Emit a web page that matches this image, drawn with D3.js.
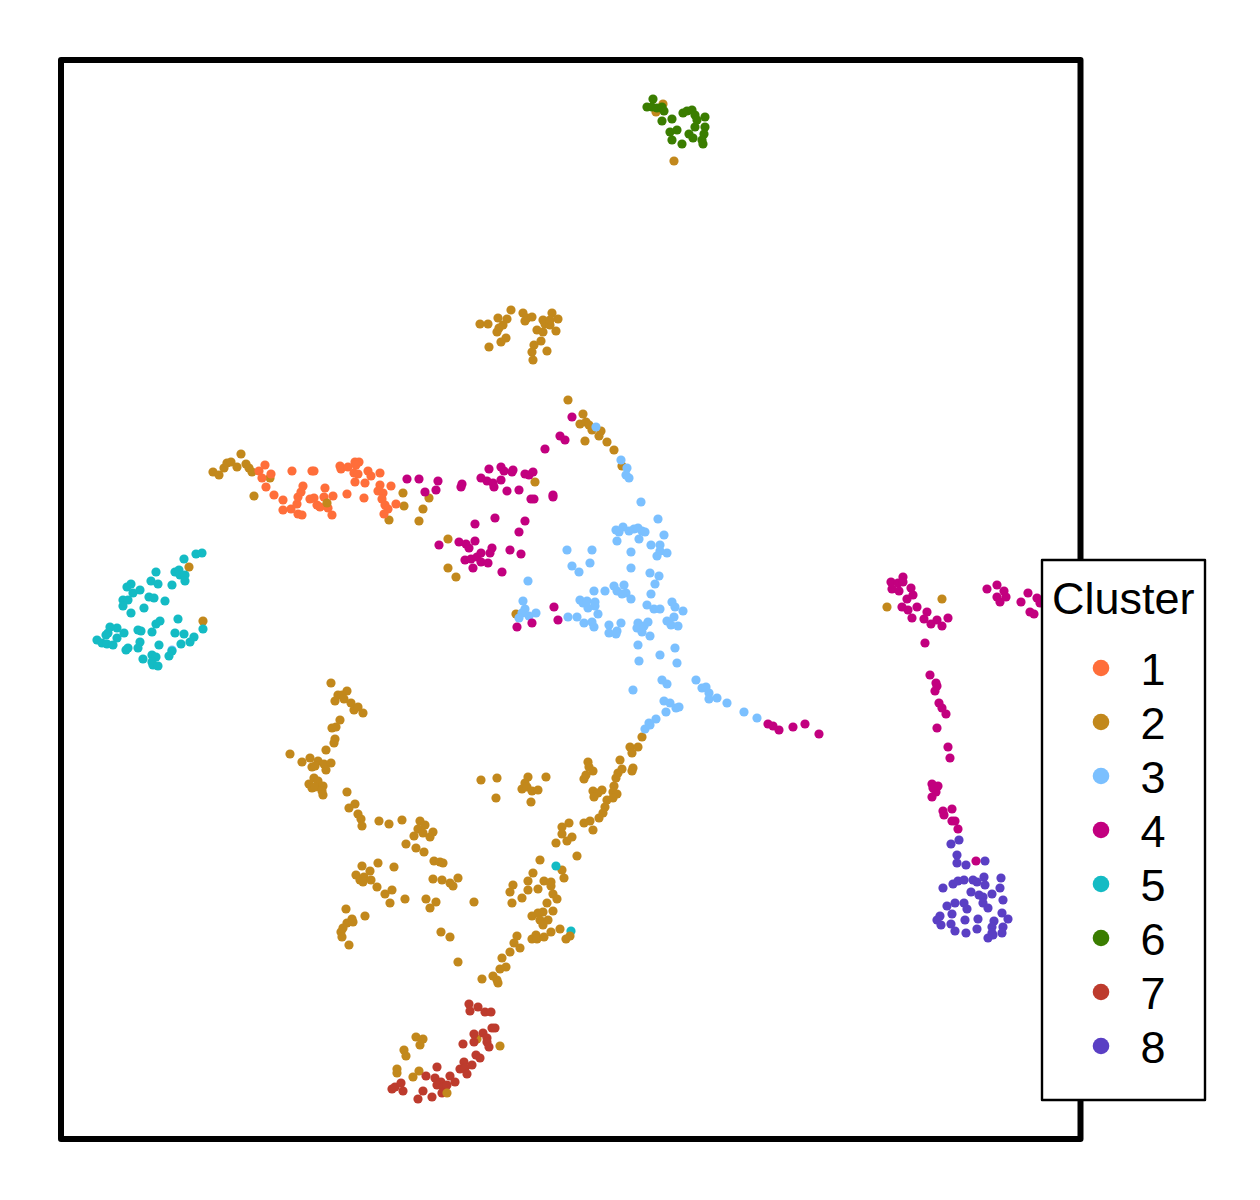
<!DOCTYPE html>
<html><head><meta charset="utf-8">
<script src="https://cdn.jsdelivr.net/npm/d3@7/dist/d3.min.js"></script>
<style>html,body{margin:0;padding:0;background:#fff}svg{display:block}</style>
</head><body><svg id="c" width="1260" height="1200"></svg>
<script>
const clusterNames = ["1","2","3","4","5","6","7","8"];
const clusterColors = ["#FF6E3A","#C2881C","#7BC0FF","#C2007F","#14BBC4","#3A7D00","#BD3B2D","#5A3FC4"];

const cluster1 = [[204,674],[198,668],[210,665],[201,661],[205,652],[213,644],[222,639],[222,629],[230,630],[236,635],[237,642],[240,647],[242,653],[237,625],[241,624],[249,640],[253,641],[256,634],[259,632],[263,642],[264,651],[272,643],[267,631],[271,624],[231,668],[251,668],[253,668],[279,673],[280,670],[287,672],[294,677],[298,677],[295,674],[293,666],[297,665],[307,668],[310,663],[319,666],[294,657],[304,656],[286,645],[303,641],[319,654],[330,653],[317,648],[322,646],[321,640],[324,634],[327,630],[323,625],[335,635]];

const cluster2 = [[152,667],[158,664],[163,671],[166,676],[170,677],[176,672],[180,685],[185,675],[188,671],[191,667],[209,661],[193,643],[342,646],[343,633],[328,619],[358,618],[362,630],[368,641],[387,600],[387,571],[395,562],[474,657],[507,739],
[522,725],[519,715],[525,717],[528,714],[531,709],[540,708],[538,703],[524,698],[546,697],[553,689],[561,673],[455,525],[581,402],[569,392],[577,392],
[419,815],[427,815],[437,821],[446,820],[442,814],[438,811],[436,807],[450,829],[462,826],[466,821],[471,822],[464,818],[482,819],[491,826],[497,820],[484,815],[489,814],[476,809],[482,807],[495,808],[489,819],[480,798],[473,794],[445,801],[440,797],[428,792],[471,787],[472,779],[486,788],
[602,1035],[595,1027],[613,978],[826,532],[881,540],[128,572],[142,518],
[270,456],[286,448],[277,444],[281,444],[274,438],[283,440],[290,436],[293,429],[297,432],[302,426],[279,419],[275,412],[271,411],[274,400],[273,396],[265,389],[229,385],[241,377],[249,381],[257,378],[251,372],[254,373],[263,375],[270,376],[265,369],[253,361],[257,358],[248,355],[251,351],[254,352],[262,353],[261,348],[262,344],[286,347],[294,335],[288,331],[297,325],[300,320],[301,313],[318,318],[328,315],[341,319],[359,318],[364,314],[357,310],[362,306],[353,303],[372,307],[369,302],[345,295],[355,291],[363,287],[373,278],[379,277],[382,276],[372,260],[381,259],[389,256],[392,253],[397,261],[301,273],[317,276],[333,272],[309,268],[295,264],[299,259],[303,262],[302,257],[310,259],[316,252],[324,245],[331,249],[329,236],[344,240],[365,240],[375,237],[369,231],[413,237],[285,230],[304,223],[291,220],[286,216],[292,217],[282,211],[280,207],[281,202],[288,194],[380,207],[389,202],[397,177],[420,359],[436,361],[435,341],
[467,362],[485,362],[464,356],[461,350],[466,352],[471,348],[477,349],[470,337],[571,386],[559,379],[527,377],[528,372],[532,368],[525,364],[523,360],[561,370],[557,366],[555,361],[572,371],[571,368],[553,353],[532,348],[541,349],[537,346],[533,342],[552,347],[556,345],[552,341],[546,339],[544,332],[542,326],[538,321],[529,318],[523,316],[532,309],[508,316],[501,312],[501,305],[511,302],[506,298],[495,296],[516,283],[479,279],[501,269],[503,261],[472,266],[467,258],[483,258],[490,257],[490,253],[452,254],[449,247],[467,249],[477,250],[461,241],[451,236],[492,245],[496,240],[486,236],[492,228],[482,227],[477,226],[471,223],[479,219],[487,219],[482,214],[456,203],[453,196],[459,191],[449,187],[441,181],[445,172],[439,170],[432,163],[436,159],[437,156],[421,160],[490,207],[499,210],[471,200],[475,204],[476,200],[483,202],
[355,102],[362,100],[359,94],[343,89],[345,83],[336,70],[336,66],[358,68],[352,62],[439,93],[416,100]];
// cluster 2 cells that sit on top of the other clusters
const cluster2Top = [[266,636],[386,46],[509,203],[505,200]];

const cluster3 = [[535,712],[560,679],[566,671],[565,664],[568,661],[580,637],[597,620],[603,604],[555,609],[558,607],[562,612],[568,608],[573,610],[577,611],[581,608],[584,607],[556,598],[578,600],[590,594],[599,594],[599,588],[596,583],[606,586],[570,587],[506,589],[531,589],[511,573],[529,576],[518,567],[570,571],[589,566],[598,563],[594,555],[467,558],[553,553],[563,554],[556,548],[565,546],[561,545],[570,540],[544,548],[533,548],[590,545],[462,538],[464,530],[461,526],[458,521],[468,523],[475,526],[507,522],[516,522],[519,539],[522,536],[526,538],[534,537],[534,533],[527,531],[523,516],[531,517],[533,512],[537,525],[548,514],[560,516],[556,508],[548,506],[555,505],[586,534],[593,530],[599,530],[611,537],[614,532],[622,528],[613,522],[606,518],[610,514],[617,513],[577,516],[576,511],[587,517],[583,513],[581,507],[589,503],[577,494],[614,491],[599,484],[578,478],[616,476],[601,459],[606,455],[572,449],[635,459],[641,451],[645,452],[648,446],[648,440],[656,441],[666,436],[683,427],[696,421],[603,438],[609,436],[615,431],[618,432],[605,427],[595,420],[588,416],[589,414],[584,410],[111,489]];

const cluster4 = [[346,660],[358,660],[377,658],[364,647],[375,649],[401,655],[400,652],[428,670],[440,672],[443,668],[451,667],[452,669],[420,661],[426,658],[432,656],[433,652],[440,659],[446,648],[458,649],[464,665],[468,664],[472,667],[470,640],[473,640],[492,644],[492,642],[484,690],[499,703],[504,699],[511,722],[434,621],[414,615],[464,618],[458,607],[378,594],[398,597],[405,595],[408,591],[414,598],[431,591],[429,586],[449,589],[460,585],[404,579],[410,580],[416,582],[420,586],[420,577],[427,576],[412,571],[441,567],
[493,532],[497,519],[471,516],[456,512],[707,415],[712,413],[718,409],[732,412],[744,415],[758,405],
[830,557],[831,550],[838,548],[837,556],[842,562],[842,557],[850,551],[852,544],[846,540],[841,532],[847,529],[851,521],[856,532],[866,527],[863,520],[870,515],[876,519],[881,513],[887,521],[864,496],[869,464],[875,456],[876,453],[874,448],[878,436],[881,431],[885,425],[876,411],[887,392],[889,381],[871,355],[877,353],[872,351],[875,347],[871,342],[882,328],[891,330],[883,324],[891,318],[894,318],[897,310],
[926,550],[936,554],[943,548],[945,542],[936,542],[939,537],[967,546],[960,537],[976,541],[969,527],[973,525],[979,536]];
const cluster4Top = [[915,278]];

const cluster5 = [[141,586],[135,585],[123,580],[95,567],[114,567],[118,569],[119,564],[124,564],[124,558],[111,554],[90,558],[97,555],[70,555],[66,552],[72,546],[79,549],[88,542],[93,541],[104,538],[62,539],[67,539],[62,533],[70,526],[83,531],[99,518],[95,515],[117,520],[91,507],[114,506],[123,505],[142,510],[133,502],[129,497],[120,495],[111,488],[108,483],[98,494],[79,497],[77,491],[67,491],[65,489],[77,509],[80,508],[56,511],[49,512],[47,506],[45,504],[56,501],[36,499],[41,496],[46,495],[52,494],[63,506],[82,480],[91,484],[95,482],[91,477],[92,474],[97,473],[495,273],[510,208]];

const cluster6 = [[592,1040],[586,1032],[591,1032],[596,1031],[601,1032],[603,1028],[601,1018],[611,1020],[622,1026],[626,1028],[631,1029],[634,1024],[636,1019],[644,1022],[634,1012],[644,1012],[609,1007],[616,1009],[611,999],[621,995],[628,1005],[632,1001],[643,1005],[641,999],[642,995]];

const cluster7 = [[408,135],[409,128],[417,132],[424,127],[430,127],[431,111],[434,111],[413,105],[422,106],[413,97],[426,101],[426,97],[428,92],[402,95],[415,84],[419,81],[411,74],[403,77],[399,70],[404,71],[406,65],[376,72],[365,63],[389,63],[394,57],[374,61],[380,57],[376,54],[382,52],[386,54],[381,46],[331,50],[334,52],[340,56],[342,48],[362,48],[357,40],[371,42]];

const cluster8 = [[898,299],[890,295],[896,284],[896,276],[905,274],[924,278],[923,262],[940,261],[882,251],[892,255],[897,258],[903,259],[912,259],[916,257],[924,254],[939,251],[910,247],[918,244],[922,242],[931,245],[942,239],[886,233],[894,236],[903,236],[906,230],[922,236],[927,231],[941,226],[891,225],[879,223],[876,219],[880,214],[890,215],[894,208],[904,219],[917,220],[947,220],[933,218],[916,210],[905,206],[931,212],[942,212],[941,206],[931,206],[927,201],[932,204]];

// draw order: back to front
const layers = [["2",cluster2],["1",cluster1],["3",cluster3],["4",cluster4],["5",cluster5],["6",cluster6],["7",cluster7],["8",cluster8],["2",cluster2Top],["4",cluster4Top]];

const svg = d3.select("#c");
const x = d3.scaleLinear().domain([0,1020]).range([61,1081]);
const y = d3.scaleLinear().domain([0,1079]).range([1139,60]);
const color = d3.scaleOrdinal().domain(clusterNames).range(clusterColors);
const font = "Liberation Sans, Arial, sans-serif";

svg.append("rect").attr("x",x(0)).attr("y",y(1079)).attr("width",x(1019.5)-x(0)).attr("height",y(0)-y(1079))
  .attr("fill","#fff").attr("stroke","#000").attr("stroke-width",6).attr("stroke-linejoin","round");

layers.forEach(([name,pts])=>{
  svg.append("g").attr("fill",color(name)).selectAll("circle").data(pts).join("circle")
    .attr("cx",d=>x(d[0])).attr("cy",d=>y(d[1])).attr("r",4.6);
});

const legendY = d3.scalePoint().domain(clusterNames).range([668,1046]);
const lg = svg.append("g");
lg.append("rect").attr("x",1042).attr("y",560).attr("width",163).attr("height",540)
  .attr("fill","#fff").attr("stroke","#000").attr("stroke-width",2.4).attr("stroke-linejoin","round");
lg.append("text").attr("x",1052).attr("y",614).attr("font-family",font).attr("font-size",45).attr("fill","#000").text("Cluster");
const rows = lg.selectAll("g.row").data(clusterNames).join("g").attr("class","row").attr("transform",d=>`translate(0,${legendY(d)})`);
rows.append("circle").attr("cx",1101).attr("cy",0).attr("r",8.3).attr("fill",d=>color(d));
rows.append("text").attr("x",1153).attr("y",17).attr("text-anchor","middle").attr("font-family",font).attr("font-size",45).attr("fill","#000").text(d=>d);
</script></body></html>
